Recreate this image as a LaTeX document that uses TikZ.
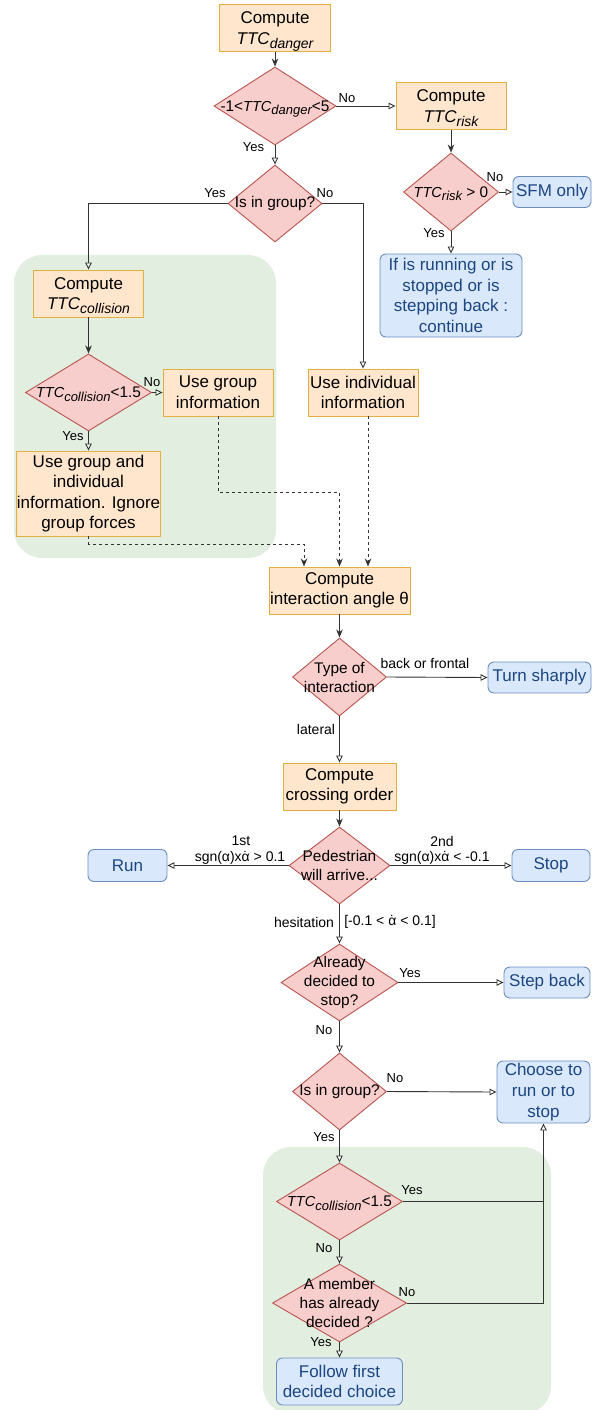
\documentclass[tikz,border=0pt]{standalone}
\usepackage{fontspec}
\setmainfont{Liberation Sans}
\usetikzlibrary{arrows.meta,shapes.geometric}
\definecolor{pfill}{HTML}{FFE6CC}
\definecolor{pdraw}{HTML}{E0B040}
\definecolor{dfill}{HTML}{F8CECC}
\definecolor{ddraw}{HTML}{B85450}
\definecolor{tfill}{HTML}{DAE8FC}
\definecolor{tdraw}{HTML}{6C8EBF}
\definecolor{ttext}{HTML}{1B4680}
\definecolor{gfill}{HTML}{E2EEE0}
\definecolor{lcol}{HTML}{333333}
\newcommand\mf{\fontsize{17}{20.6}\selectfont}
\newcommand\df{\fontsize{15.4}{19}\selectfont}
\newcommand\lf{\fontsize{14}{16}\selectfont}
\newcommand\ynf{\fontsize{13}{15}\selectfont}
% TTC with subscript in boxes
\newcommand\ttcs[1]{\textit{TTC}\raisebox{-4pt}[0pt][0pt]{\fontsize{14}{16}\selectfont\itshape #1}}
% TTC with subscript in diamonds
\newcommand\ttcd[1]{{\fontsize{14.5}{16}\selectfont\itshape TTC}\raisebox{-3.5pt}[0pt][0pt]{\fontsize{13}{15}\selectfont\itshape #1}}
\newcommand\adot{\ooalign{α\cr\hidewidth\char"02D9\hidewidth\cr}}
\tikzset{
  proc/.style={rectangle, draw=pdraw, fill=pfill, line width=0.9pt, inner sep=0pt, align=center, font=\mf},
  term/.style={rectangle, rounded corners=6pt, draw=tdraw, fill=tfill, line width=0.9pt, inner sep=0pt, align=center, font=\mf, text=ttext},
  dia/.style={diamond, draw=ddraw, fill=dfill, line width=0.9pt, inner sep=0pt},
  dtext/.style={inner sep=0pt, align=center, font=\df},
  lbl/.style={inner sep=0pt, font=\lf, align=center},
  yn/.style={inner sep=0pt, font=\ynf},
  conn/.style={draw=lcol, line width=0.9pt},
  fa/.style={conn, -{Stealth[length=8pt, width=6.5pt, inset=2.5pt]}},
  oa/.style={conn, -{Triangle[fill=white, length=7pt, width=6.5pt]}},
  da/.style={conn, dash pattern=on 3pt off 3pt, -{Stealth[length=8pt, width=6.5pt, inset=2.5pt]}},
}
\begin{document}
\begin{tikzpicture}[x=1pt, y=-1pt]
\useasboundingbox (0,0) rectangle (597,1410);
% group backgrounds
\fill[gfill, rounded corners=28pt] (14,255) rectangle (276,558);
\fill[gfill, rounded corners=28pt] (263,1147) rectangle (551,1414);

% nodes
\node[proc, minimum width=111, minimum height=47] (cdanger) at (275,28) {Compute\\\ttcs{danger}};
\node[dia, minimum width=122, minimum height=78] (d1) at (275,106) {};
\node[dtext] (d1t) at (d1.center) {-1<\ttcd{danger}<5};
\node[proc, minimum width=110, minimum height=47] (crisk) at (451,106) {Compute\\\ttcs{risk}};
\node[dia, minimum width=95, minimum height=78] (d2) at (451,192) {};
\node[dtext] (d2t) at (d2.center) {\ttcd{risk} > 0};
\node[term, minimum width=78, minimum height=31] (sfm) at (552,192) {SFM only};
\node[term, minimum width=142, minimum height=83] (cont) at (451,295.5) {If is running or is\\stopped or is\\stepping back :\\continue};
\node[dia, minimum width=94, minimum height=77] (d3) at (275,203.5) {};
\node[dtext] (d3t) at (d3.center) {Is in group?};
\node[proc, minimum width=110, minimum height=47] (coll) at (88.5,293.5) {Compute\\\ttcs{collision}};
\node[dia, minimum width=126, minimum height=77] (d4) at (88.5,392.5) {};
\node[dtext] (d4t) at (d4.center) {\ttcd{collision}<1.5};
\node[proc, minimum width=110, minimum height=47] (ugi) at (218,392.5) {Use group\\information};
\node[proc, minimum width=142, minimum height=85] (ugii) at (88.5,493.5) {Use group and\\individual\\information. Ignore\\group forces};
\node[proc, minimum width=110, minimum height=47] (indiv) at (363,392.5) {Use individual\\information};
\node[proc, minimum width=141, minimum height=47] (angle) at (339.5,590.5) {Compute\\interaction angle θ};
\node[dia, minimum width=94, minimum height=78] (d5) at (339.5,677) {};
\node[dtext] (d5t) at (d5.center) {Type of\\interaction};
\node[term, minimum width=103, minimum height=31] (turn) at (539.5,677.5) {Turn sharply};
\node[proc, minimum width=113, minimum height=47] (cross) at (339.5,786.5) {Compute\\crossing order};
\node[dia, minimum width=101, minimum height=77] (d6) at (339.5,865.5) {};
\node[dtext] (d6t) at (d6.center) {Pedestrian\\will arrive...};
\node[term, minimum width=79, minimum height=32] (run) at (127.5,865.5) {Run};
\node[term, minimum width=78, minimum height=32] (stop) at (551,865.5) {Stop};
\node[dia, minimum width=117, minimum height=77] (d7) at (339.5,982.5) {};
\node[dtext] (d7t) at (d7.center) {Already\\decided to\\stop?};
\node[term, minimum width=86, minimum height=31] (step) at (547,982.5) {Step back};
\node[dia, minimum width=94, minimum height=77] (d8) at (339.5,1091.5) {};
\node[dtext] (d8t) at (d8.center) {Is in group?};
\node[term, minimum width=93, minimum height=62] (choose) at (543.5,1092) {Choose to\\run or to\\stop};
\node[dia, minimum width=126, minimum height=77] (d9) at (339.5,1201.5) {};
\node[dtext] (d9t) at (d9.center) {\ttcd{collision}<1.5};
\node[dia, minimum width=134, minimum height=78] (d10) at (339.5,1303) {};
\node[dtext] (d10t) at (d10.center) {A member\\has already\\decided ?};
\node[term, minimum width=126, minimum height=47] (follow) at (339.5,1381.5) {Follow first\\decided choice};
\coordinate (j) at (543.5,1201.5);

% connectors
\draw[fa] (cdanger.south) -- (d1.north);
\draw[oa] (d1.east) -- (crisk.west);
\draw[fa] (crisk.south) -- (d2.north);
\draw[oa] (d2.east) -- (sfm.west);
\draw[oa] (d2.south) -- (cont.north);
\draw[oa] (d1.south) -- (d3.north);
\draw[oa] (d3.west) -| (coll.north);
\draw[oa] (d3.east) -| (indiv.north);
\draw[fa] (coll.south) -- (d4.north);
\draw[oa] (d4.east) -- (ugi.west);
\draw[oa] (d4.south) -- (ugii.north);
\draw[da] (ugi.south) -- (ugi.south |- 0,492) -| (angle.north);
\draw[da] ([xshift=5pt]indiv.south) -- ([xshift=5pt]indiv.south |- angle.north);
\draw[da] (ugii.south) -- (ugii.south |- 0,544) -| ([xshift=-35.5pt]angle.north);
\draw[fa] (angle.south) -- (d5.north);
\draw[oa] (d5.east) -- (turn.west);
\draw[oa] (d5.south) -- (cross.north);
\draw[fa] (cross.south) -- (d6.north);
\draw[oa] (d6.west) -- (run.east);
\draw[oa] (d6.east) -- (stop.west);
\draw[oa] (d6.south) -- (d7.north);
\draw[oa] (d7.east) -- (step.west);
\draw[oa] (d7.south) -- (d8.north);
\draw[oa] (d8.east) -- (choose.west);
\draw[oa] (d8.south) -- (d9.north);
\draw[conn] (d10.east) -| (j);
\draw[oa] (d9.east) -| (choose.south);
\draw[oa] (d9.south) -- (d10.north);
\draw[oa] (d10.south) -- (follow.north);

% labels
\node[yn] (l1) at (347,98.5) {No};
\node[yn] (l2) at (253.5,147.5) {Yes};
\node[yn] (l3) at (495,177) {No};
\node[yn] (l4) at (434,233) {Yes};
\node[yn] (l5) at (215,193) {Yes};
\node[yn] (l6) at (325,193) {No};
\node[yn] (l7) at (152,382) {No};
\node[yn] (l8) at (73,436) {Yes};
\node[lbl] (l9) at (425,663) {back or frontal};
\node[lbl] (l10) at (316,729) {lateral};
\node[lbl] (l11) at (241,841) {1st};
\node[lbl] (l12) at (240,858) {sgn(α)x\adot{} > 0.1};
\node[lbl] (l13) at (442,841) {2nd};
\node[lbl] (l14) at (442,858) {sgn(α)x\adot{} < -0.1};
\node[lbl] (l15) at (304,922) {hesitation};
\node[lbl] (l16) at (390,922) {[-0.1 < \adot{} < 0.1]};
\node[yn] (l17) at (410,973) {Yes};
\node[yn] (l18) at (324,1030) {No};
\node[yn] (l19) at (395,1078) {No};
\node[yn] (l20) at (324,1137) {Yes};
\node[yn] (l21) at (412,1190) {Yes};
\node[yn] (l22) at (324,1248) {No};
\node[yn] (l23) at (407,1292) {No};
\node[yn] (l24) at (321,1342) {Yes};
\end{tikzpicture}
\end{document}
